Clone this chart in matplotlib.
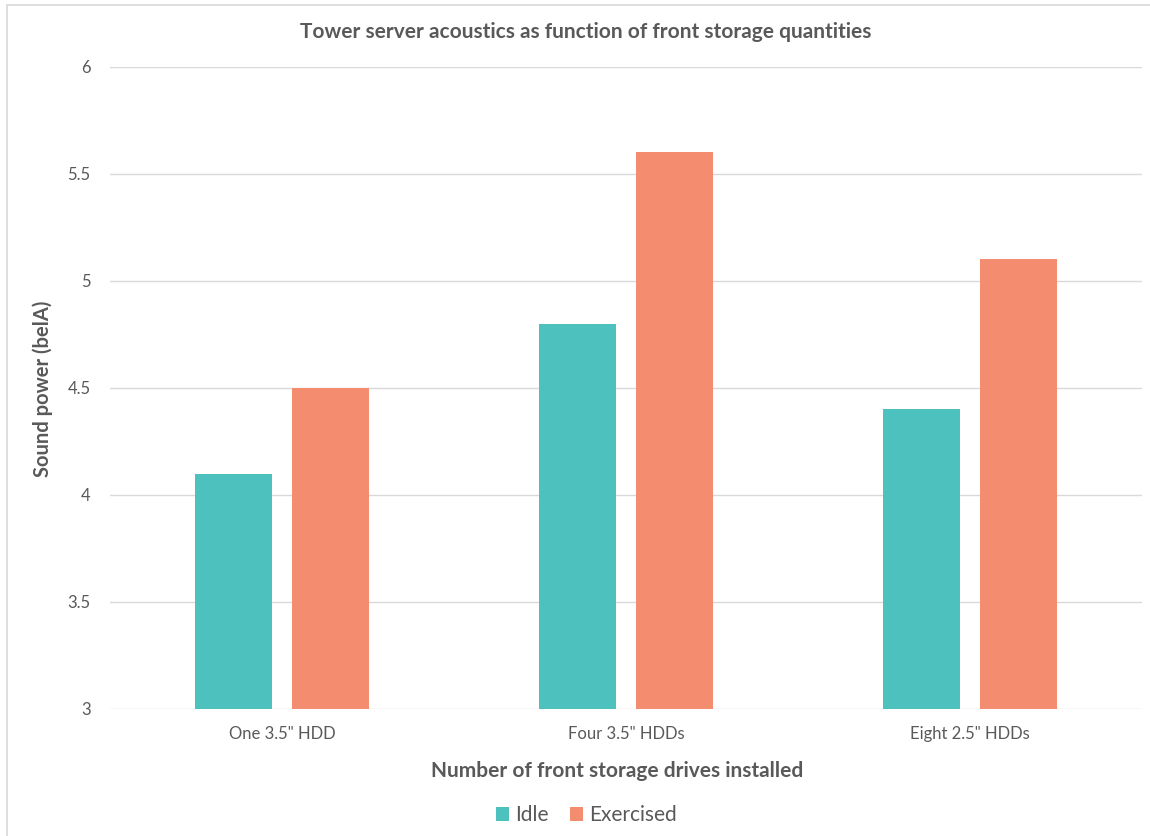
import numpy as np
import matplotlib.pyplot as plt
from matplotlib.patches import Rectangle

categories = ['One 3.5" HDD', 'Four 3.5" HDDs', 'Eight 2.5" HDDs']
idle = [4.1, 4.8, 4.4]
exercised = [4.5, 5.6, 5.1]
yticks = [3, 3.5, 4, 4.5, 5, 5.5, 6]

TEAL = "#4DC1BE"
SALMON = "#F48C6F"
GRID = "#D9D9D9"
TEXT = "#595959"

plt.rcParams["font.family"] = ["Lato", "DejaVu Sans"]

fig = plt.figure(figsize=(11.5, 8.36), dpi=100)
ax = fig.add_axes([0.0957, 0.152, 0.8973, 0.768])

x = np.arange(len(categories))
w = 0.224
off = 0.141
ax.bar(x - off, idle, w, color=TEAL, label="Idle", zorder=3)
ax.bar(x + off, exercised, w, color=SALMON, label="Exercised", zorder=3)

ax.set_xlim(-0.5, len(categories) - 0.5)
ax.set_ylim(3, 6)
ax.set_yticks(yticks)
ax.set_yticklabels([f"{v:g}" for v in yticks])
ax.set_xticks(x)
ax.set_xticklabels(categories)
ax.grid(axis="y", color=GRID, linewidth=1, zorder=0)
for s in ax.spines.values():
    s.set_visible(False)
ax.tick_params(axis="both", length=0, colors=TEXT, labelsize=12)
ax.tick_params(axis="y", pad=14)
ax.tick_params(axis="x", pad=12)

fig.text(0.509, 0.962, "Tower server acoustics as function of front storage quantities",
         ha="center", va="center", fontsize=15, fontweight="bold", color=TEXT)
fig.text(0.537, 0.078, "Number of front storage drives installed",
         ha="center", va="center", fontsize=15, fontweight="bold", color=TEXT)
fig.text(0.037, 0.535, "Sound power (belA)", rotation=90,
         ha="center", va="center", fontsize=14.5, fontweight="bold", color=TEXT)

leg = fig.legend(loc="center", bbox_to_anchor=(0.51, 0.025), ncol=2, frameon=False,
                 fontsize=15, handlelength=0.65, handleheight=0.65, handletextpad=0.3,
                 columnspacing=1.0)
for t in leg.get_texts():
    t.set_color(TEXT)

# light frame around the chart area
fig.patches.append(Rectangle((7 / 1150, -0.05), 1.1, 1.05 - 5 / 836, transform=fig.transFigure,
                             fill=False, edgecolor=GRID, linewidth=1.2))

fig.savefig("out.png", dpi=100)
